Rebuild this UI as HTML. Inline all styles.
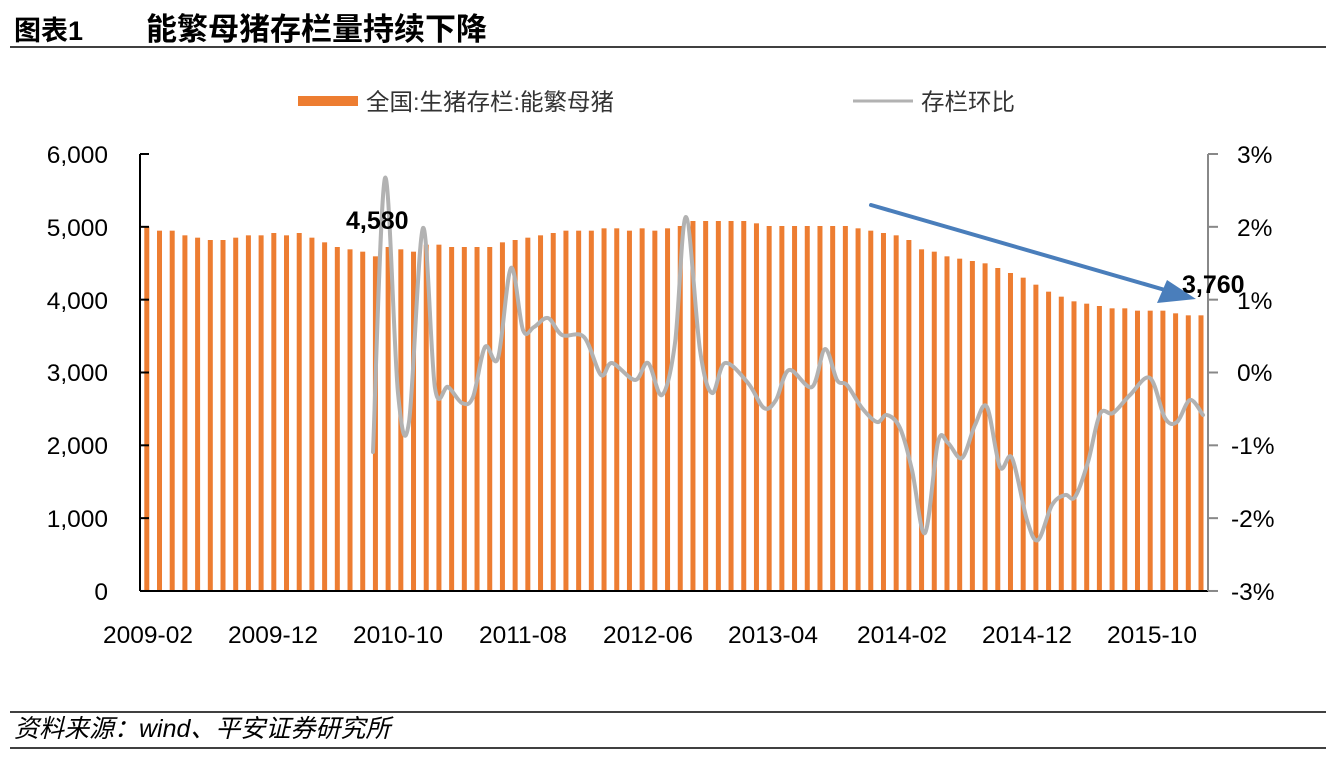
<!DOCTYPE html>
<html><head><meta charset="utf-8"><style>
body{margin:0;background:#fff;width:1338px;height:756px;overflow:hidden}
text{font-family:"Liberation Sans","Noto Sans CJK SC",sans-serif}
</style></head><body>
<svg id="s" width="1338" height="756" xmlns="http://www.w3.org/2000/svg">
<text x="14" y="40" font-size="27" font-weight="bold">图表1</text>
<text x="146" y="40" font-size="31" font-weight="bold">能繁母猪存栏量持续下降</text>
<line x1="10" y1="47" x2="1326" y2="47" stroke="#000" stroke-width="1.5"/>
<rect x="298" y="96" width="60" height="10" fill="#ED7D31"/>
<text x="366" y="110" font-size="23.5" fill="#333">全国:生猪存栏:能繁母猪</text>
<line x1="853" y1="101" x2="913" y2="101" stroke="#B2B2B2" stroke-width="3"/>
<text x="921" y="110" font-size="23.5" fill="#333">存栏环比</text>
<g id="bars" fill="#ED7D31"></g>
<line x1="140" y1="154" x2="140" y2="591" stroke="#000" stroke-width="2"/>
<line x1="140" y1="591" x2="1208" y2="591" stroke="#000" stroke-width="2"/>
<line x1="1208" y1="154" x2="1208" y2="591" stroke="#888" stroke-width="2"/>
<g id="ticks"></g>
<g font-size="24.5" text-anchor="end">
<text x="108" y="163">6,000</text><text x="108" y="236">5,000</text><text x="108" y="309">4,000</text>
<text x="108" y="381">3,000</text><text x="108" y="454">2,000</text><text x="108" y="527">1,000</text><text x="108" y="600">0</text>
</g>
<g font-size="24.5">
<text x="1237" y="163">3%</text><text x="1237" y="236">2%</text><text x="1237" y="309">1%</text>
<text x="1237" y="381">0%</text><text x="1231" y="454">-1%</text><text x="1231" y="527">-2%</text><text x="1231" y="600">-3%</text>
</g>
<g font-size="24.5" text-anchor="middle">
<text x="148" y="643">2009-02</text><text x="273" y="643">2009-12</text><text x="398" y="643">2010-10</text>
<text x="523" y="643">2011-08</text><text x="648" y="643">2012-06</text><text x="773" y="643">2013-04</text>
<text x="902" y="643">2014-02</text><text x="1027" y="643">2014-12</text><text x="1152" y="643">2015-10</text>
</g>
<path id="ln" fill="none" stroke="#B2B2B2" stroke-width="4" stroke-linejoin="round" stroke-linecap="round"/>
<text x="346" y="229" font-size="25" font-weight="bold">4,580</text>
<line x1="871" y1="205" x2="1165" y2="290" stroke="#4A7EBB" stroke-width="4" stroke-linecap="round"/>
<polygon points="1196,299 1157,303 1167,280" fill="#4A7EBB"/>
<text x="1182" y="293" font-size="25" font-weight="bold">3,760</text>
<line x1="10" y1="712" x2="1326" y2="712" stroke="#000" stroke-width="1.5"/>
<text x="14" y="737" font-size="25" font-style="italic">资料来源：wind、平安证券研究所</text>
<line x1="10" y1="748" x2="1326" y2="748" stroke="#000" stroke-width="1.5"/>
</svg>
<script>
var z=[230,242,242,256,263,270,270,263,256,256,249,256,249,263,277,291,298,305,319,291,298,305,284,284,291,291,291,291,277,270,263,256,249,242,242,242,235,235,242,235,242,235,228,
213,213,213,213,213,220,228,228,228,228,228,228,228,235,242,249,256,270,298,305,319,326,333,340,354,369,383,404,425,440,454,461,468,475,475,482,482,482,490,496,496];
var NS="http://www.w3.org/2000/svg",g=document.getElementById('bars'),n=z.length,sp=(1201-146.8)/(n-1);
for(var i=0;i<n;i++){var r=document.createElementNS(NS,'rect');var x=146.8+i*sp,y=150+z[i]/3;
r.setAttribute('x',x-2.5);r.setAttribute('y',y);r.setAttribute('width',5);r.setAttribute('height',591-y);g.appendChild(r);}
var t=document.getElementById('ticks'),h='';
for(var k=0;k<7;k++){var yy=154+k*72.83;h+='<line x1="140" y1="'+yy+'" x2="149" y2="'+yy+'" stroke="#000" stroke-width="2"/>';
h+='<line x1="1208" y1="'+yy+'" x2="1218" y2="'+yy+'" stroke="#888" stroke-width="2"/>';}
t.innerHTML=h;
var p=[[373,452],[385,178],[398,393],[409,422],[423,228],[435,388],[448,387],[462,403],[473,397],[485,347],[498,358],[511,268],[523,330],[534,327],[548,318],[562,335],[584,337],[601,375],[612,363],[635,380],[648,363],[662,395],[675,343],[686,217],[700,350],[712,393],[725,363],[748,383],[764,408],[776,400],[789,370],[812,387],[825,349],[837,380],[847,385],[862,408],[877,422],[887,415],[900,428],[912,470],[925,533],[938,442],[948,443],[962,458],[975,425],[987,407],[1000,467],[1012,458],[1027,520],[1038,540],[1052,505],[1065,495],[1075,497],[1088,462],[1100,414],[1113,413],[1130,395],[1150,378],[1165,418],[1177,422],[1190,400],[1203,415]];
var d='M'+p[0][0]+','+p[0][1];
for(var i=0;i<p.length-1;i++){var a=p[i-1]||p[i],b=p[i],c=p[i+1],e=p[i+2]||c;
d+=' C'+(b[0]+(c[0]-a[0])/6)+','+(b[1]+(c[1]-a[1])/6)+' '+(c[0]-(e[0]-b[0])/6)+','+(c[1]-(e[1]-b[1])/6)+' '+c[0]+','+c[1];}
document.getElementById('ln').setAttribute('d',d);
</script>
</body></html>
